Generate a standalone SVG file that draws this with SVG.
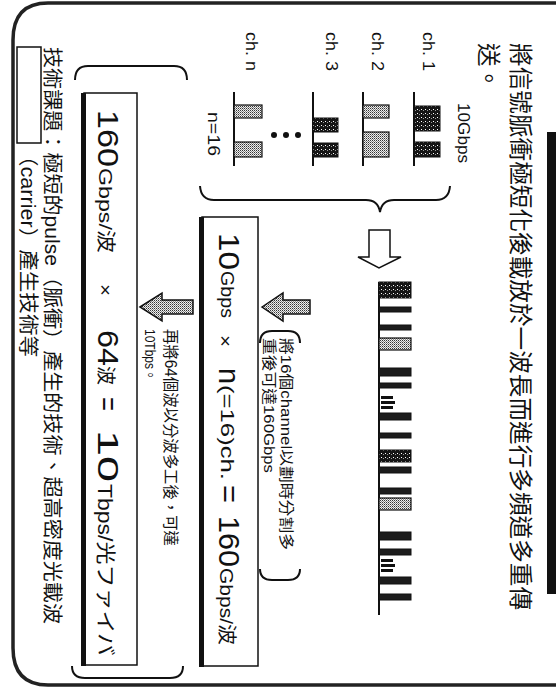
<svg xmlns="http://www.w3.org/2000/svg" width="556" height="697" viewBox="0 0 556 697">
<defs>
<style>
.cjk{font-family:"Noto Sans CJK TC","Noto Sans CJK JP",sans-serif;fill:#111}
.lat{font-family:"Liberation Sans","Noto Sans CJK TC","Noto Sans CJK JP",sans-serif;fill:#111}
.ln{stroke:#111;fill:none;stroke-width:2}
.bd{fill:url(#dk);stroke:#111;stroke-width:1}
.bk{fill:#1c1c1c;stroke:#111;stroke-width:1}
.bl{fill:url(#lt);stroke:#111;stroke-width:1.2}
.box{fill:#fff;stroke:#111;stroke-width:1.5}
.sh{fill:#111}
.harr{fill:url(#lt);stroke:#111;stroke-width:1.5;stroke-linejoin:miter}
</style>
<pattern id="dk" width="4" height="4" patternUnits="userSpaceOnUse"><rect width="4" height="4" fill="#151515"/><rect x="1" y="1" width="1" height="1" fill="#fff"/><rect x="3" y="2" width="1" height="1" fill="#999"/></pattern>
<pattern id="lt" width="2" height="2" patternUnits="userSpaceOnUse"><rect width="2" height="2" fill="#eee"/><rect width="1" height="1" fill="#333"/><rect x="1" y="1" width="1" height="1" fill="#888"/></pattern>
</defs>
<rect width="556" height="697" fill="#fff"/>
<path d="M570,3 L48,3 Q13,3 13,40 L13,648 Q13,685 48,685 L570,685" fill="none" stroke="#222" stroke-width="3.5"/>

<g id="title">
<text class="cjk" font-size="23.6" textLength="567" lengthAdjust="spacing" transform="translate(512,43) rotate(90)">將信號脈衝極短化後載放於一波長而進行多頻道多重傳</text>
<text class="cjk" font-size="23.6" transform="translate(480,43) rotate(90)">送。</text>
<rect x="547" y="132" width="9" height="462" fill="#111"/>
</g>

<g id="ch1">
<text class="lat" font-size="16" textLength="39" lengthAdjust="spacingAndGlyphs" transform="translate(423,32) rotate(90)">ch. 1</text>
<text class="lat" font-size="16" textLength="60" lengthAdjust="spacingAndGlyphs" transform="translate(458,103) rotate(90)">10Gbps</text>
<line class="ln" x1="414" y1="92" x2="414" y2="166"/>
<rect class="bd" x="414" y="106" width="26" height="25"/>
<rect class="bd" x="414" y="142" width="26" height="15"/>
</g>
<g id="ch2">
<text class="lat" font-size="16" textLength="39" lengthAdjust="spacingAndGlyphs" transform="translate(372,32) rotate(90)">ch. 2</text>
<line class="ln" x1="363" y1="92" x2="363" y2="166"/>
<rect class="bl" x="363" y="105" width="26" height="13"/>
<rect class="bl" x="363" y="132" width="26" height="25"/>
</g>
<g id="ch3">
<text class="lat" font-size="16" textLength="39" lengthAdjust="spacingAndGlyphs" transform="translate(326,32) rotate(90)">ch. 3</text>
<line class="ln" x1="313" y1="92" x2="313" y2="166"/>
<rect class="bd" x="313" y="118" width="25" height="14"/>
<rect class="bd" x="313" y="143" width="25" height="14"/>
</g>
<g id="dots">
<circle cx="274" cy="135" r="3" fill="#111"/>
<circle cx="286" cy="135" r="3" fill="#111"/>
<circle cx="298" cy="135" r="3" fill="#111"/>
</g>
<g id="chn">
<text class="lat" font-size="16" textLength="39" lengthAdjust="spacingAndGlyphs" transform="translate(246,32) rotate(90)">ch. n</text>
<line class="ln" x1="234" y1="92" x2="234" y2="166"/>
<rect class="bl" x="234" y="105" width="28" height="13"/>
<rect class="bl" x="234" y="142" width="28" height="15"/>
<text class="lat" font-size="16" textLength="44" lengthAdjust="spacingAndGlyphs" transform="translate(208,112) rotate(90)">n=16</text>
</g>

<g id="combined">
<line class="ln" x1="379" y1="282" x2="379" y2="615"/>
<rect class="bd" x="379" y="282" width="32" height="16"/>
<rect class="bk" x="379" y="307" width="32" height="5"/>
<rect class="bk" x="379" y="325" width="32" height="5"/>
<rect class="bl" x="379" y="338" width="32" height="12"/>
<rect class="bk" x="379" y="368" width="32" height="8"/>
<rect class="bk" x="379" y="383" width="32" height="5"/>
<rect class="sh" x="381" y="396" width="12" height="3"/>
<rect class="sh" x="381" y="401" width="14" height="3"/>
<rect class="sh" x="381" y="406" width="12" height="3"/>
<rect class="bk" x="379" y="413" width="32" height="7"/>
<rect class="bk" x="379" y="433" width="32" height="5"/>
<rect class="bd" x="379" y="450" width="32" height="12"/>
<rect class="bk" x="379" y="467" width="32" height="6"/>
<rect class="bk" x="379" y="488" width="32" height="6"/>
<rect class="bl" x="379" y="498" width="32" height="12"/>
<rect class="bk" x="379" y="532" width="32" height="8"/>
<rect class="bk" x="379" y="549" width="32" height="6"/>
<rect class="sh" x="381" y="559" width="12" height="3"/>
<rect class="sh" x="381" y="564" width="14" height="3"/>
<rect class="sh" x="381" y="569" width="12" height="3"/>
<rect class="bk" x="379" y="577" width="32" height="7"/>
<rect class="bk" x="379" y="594" width="32" height="6"/>
</g>

<g id="note1">
<text class="lat" font-size="15" textLength="212" lengthAdjust="spacingAndGlyphs" transform="translate(281,338) rotate(90)">將16個channel以劃時分割多</text>
<text class="lat" font-size="15" textLength="135" lengthAdjust="spacingAndGlyphs" transform="translate(264,338) rotate(90)">重後可達160Gbps</text>
</g>

<g id="box2">
<rect class="box" x="202" y="217" width="56" height="449"/>
<rect class="sh" x="199" y="217" width="5" height="450"/>
<text class="lat" font-size="30" textLength="37" lengthAdjust="spacingAndGlyphs" transform="translate(219,233) rotate(90)">10</text>
<text class="lat" font-size="18" textLength="47" lengthAdjust="spacingAndGlyphs" transform="translate(221,271) rotate(90)">Gbps</text>
<text class="lat" font-size="18" textLength="12" lengthAdjust="spacingAndGlyphs" transform="translate(219,335) rotate(90)">×</text>
<text class="lat" font-size="30" textLength="16" lengthAdjust="spacingAndGlyphs" transform="translate(219,368) rotate(90)">n</text>
<text class="lat" font-size="18" textLength="95" lengthAdjust="spacingAndGlyphs" transform="translate(221,385) rotate(90)">(=16)ch.</text>
<text class="lat" font-size="30" textLength="18" lengthAdjust="spacingAndGlyphs" transform="translate(219,485) rotate(90)">=</text>
<text class="lat" font-size="30" textLength="51" lengthAdjust="spacingAndGlyphs" transform="translate(219,516) rotate(90)">160</text>
<text class="lat" font-size="19" textLength="77" lengthAdjust="spacingAndGlyphs" transform="translate(220,568) rotate(90)">Gbps/波</text>
</g>

<g id="note2">
<text class="lat" font-size="16" textLength="217" lengthAdjust="spacingAndGlyphs" transform="translate(165,329) rotate(90)">再將64個波以分波多工後，可達</text>
<text class="lat" font-size="15" textLength="52" lengthAdjust="spacingAndGlyphs" transform="translate(145,329) rotate(90)">10Tbps。</text>
</g>

<g id="box1">
<rect class="box" x="84" y="93" width="53" height="572"/>
<rect class="sh" x="81" y="93" width="5" height="573"/>
<text class="lat" font-size="30" textLength="57" lengthAdjust="spacingAndGlyphs" transform="translate(98,110) rotate(90)">160</text>
<text class="lat" font-size="19" textLength="85" lengthAdjust="spacingAndGlyphs" transform="translate(99,168) rotate(90)">Gbps/波</text>
<text class="lat" font-size="18" textLength="12" lengthAdjust="spacingAndGlyphs" transform="translate(99,284) rotate(90)">×</text>
<text class="lat" font-size="30" textLength="36" lengthAdjust="spacingAndGlyphs" transform="translate(98,330) rotate(90)">64</text>
<text class="lat" font-size="19" textLength="19" lengthAdjust="spacingAndGlyphs" transform="translate(99,366) rotate(90)">波</text>
<text class="lat" font-size="30" textLength="14" lengthAdjust="spacingAndGlyphs" transform="translate(98,397) rotate(90)">=</text>
<text class="lat" font-size="30" textLength="52" lengthAdjust="spacingAndGlyphs" transform="translate(98,430) rotate(90)">10</text>
<text class="lat" font-size="20" textLength="172" lengthAdjust="spacingAndGlyphs" transform="translate(98,484) rotate(90)">Tbps/光ファイバ</text>
</g>

<g id="issue">
<rect x="17" y="47" width="24" height="96" fill="#fff" stroke="#111" stroke-width="1.5"/>
<text class="lat" font-size="20" textLength="577" lengthAdjust="spacingAndGlyphs" transform="translate(45,47) rotate(90)">技術課題：極短的pulse（脈衝）產生的技術、超高密度光載波</text>
<text class="lat" font-size="20" textLength="212" lengthAdjust="spacingAndGlyphs" transform="translate(21,145) rotate(90)">（carrier）產生技術等</text>
</g>

<g id="connectors">
<path class="ln" d="M200,186 Q201,200 214,200 L366,200 Q378,200 380,212 Q382,200 394,200 L436,200 Q449,200 450,186"/>
<polygon points="369,230 390,230 390,257 401,257 379,268 358,257 369,257" fill="#fff" stroke="#111" stroke-width="1.5"/>
<polygon class="harr" points="262,307 283,293 283,300 310,300 310,314 283,314 283,321"/>
<polygon class="harr" points="140,307 162,293 162,300 193,300 193,314 162,314 162,321"/>
<path class="ln" stroke-width="1.5" d="M260,343 Q260,331 272,331 L288,331 Q300,331 300,343"/>
<path class="ln" stroke-width="1.5" d="M260,569 Q260,580 272,580 L288,580 Q300,580 300,569"/>
<path class="ln" d="M75,80 Q75,66 88,66 L174,66 Q187,66 187,80"/>
<path class="ln" d="M72,666 Q72,678 85,678 L170,678 Q183,678 183,666"/>
</g>
</svg>
